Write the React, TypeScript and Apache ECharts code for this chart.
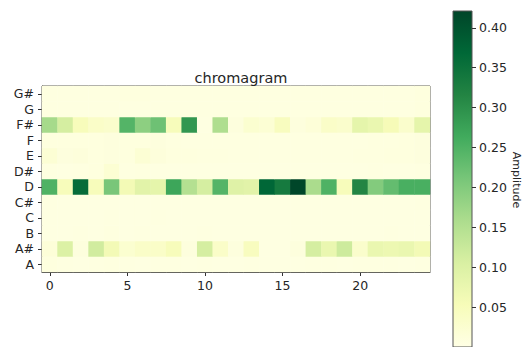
import React, { useEffect, useRef } from "react";
import * as echarts from "echarts";

const frames: string[] = Array.from({ length: 25 }, (_, i) => String(i));
const pitches = ["A", "A#", "B", "C", "C#", "D", "D#", "E", "F", "F#", "G", "G#"];

const rowA = [0.008, 0.006, 0.005, 0.006, 0.007, 0.006, 0.005, 0.006, 0.006, 0.005, 0.006, 0.005, 0.005, 0.006, 0.005, 0.005, 0.005, 0.006, 0.006, 0.005, 0.006, 0.006, 0.006, 0.005, 0.006];
const rowAs = [0.015, 0.1, 0.01, 0.115, 0.06, 0.025, 0.035, 0.035, 0.05, 0.01, 0.11, 0.035, 0.01, 0.045, 0.005, 0.005, 0.01, 0.11, 0.075, 0.12, 0.03, 0.075, 0.07, 0.075, 0.06];
const rowB = [0.005, 0.005, 0.006, 0.005, 0.007, 0.005, 0.006, 0.005, 0.005, 0.005, 0.006, 0.005, 0.005, 0.005, 0.005, 0.005, 0.005, 0.005, 0.005, 0.005, 0.005, 0.005, 0.006, 0.005, 0.005];
const rowC = [0.005, 0.005, 0.005, 0.005, 0.006, 0.005, 0.005, 0.006, 0.005, 0.005, 0.005, 0.005, 0.005, 0.005, 0.005, 0.005, 0.005, 0.005, 0.005, 0.005, 0.005, 0.005, 0.005, 0.005, 0.005];
const rowCs = [0.006, 0.005, 0.005, 0.005, 0.005, 0.005, 0.005, 0.005, 0.005, 0.005, 0.005, 0.005, 0.005, 0.005, 0.005, 0.005, 0.005, 0.005, 0.005, 0.005, 0.005, 0.005, 0.005, 0.005, 0.006];
const rowD = [0.25, 0.05, 0.36, 0.05, 0.21, 0.06, 0.09, 0.085, 0.27, 0.15, 0.11, 0.245, 0.095, 0.09, 0.37, 0.335, 0.42, 0.16, 0.25, 0.05, 0.315, 0.2, 0.23, 0.255, 0.255];
const rowDs = [0.006, 0.005, 0.006, 0.008, 0.022, 0.006, 0.007, 0.005, 0.005, 0.005, 0.005, 0.005, 0.005, 0.005, 0.005, 0.005, 0.005, 0.005, 0.005, 0.005, 0.005, 0.006, 0.005, 0.005, 0.006];
const rowE = [0.02, 0.01, 0.012, 0.008, 0.01, 0.008, 0.02, 0.012, 0.008, 0.008, 0.007, 0.007, 0.006, 0.006, 0.006, 0.006, 0.006, 0.006, 0.006, 0.006, 0.007, 0.007, 0.008, 0.008, 0.01];
const rowF = [0.008, 0.008, 0.008, 0.008, 0.01, 0.008, 0.008, 0.01, 0.007, 0.006, 0.006, 0.006, 0.006, 0.006, 0.006, 0.006, 0.006, 0.006, 0.006, 0.006, 0.006, 0.007, 0.007, 0.008, 0.01];
const rowFs = [0.165, 0.11, 0.05, 0.035, 0.03, 0.245, 0.19, 0.22, 0.05, 0.29, 0.005, 0.155, 0.01, 0.025, 0.02, 0.045, 0.01, 0.015, 0.035, 0.03, 0.085, 0.075, 0.055, 0.03, 0.085];
const rowG = [0.006, 0.006, 0.006, 0.006, 0.006, 0.006, 0.006, 0.006, 0.006, 0.006, 0.006, 0.006, 0.006, 0.006, 0.006, 0.006, 0.006, 0.006, 0.006, 0.006, 0.006, 0.006, 0.006, 0.006, 0.008];
const rowGs = [0.006, 0.006, 0.006, 0.006, 0.006, 0.008, 0.008, 0.006, 0.006, 0.006, 0.006, 0.006, 0.006, 0.006, 0.006, 0.006, 0.006, 0.006, 0.006, 0.006, 0.006, 0.006, 0.006, 0.006, 0.008];

const rows = [rowA, rowAs, rowB, rowC, rowCs, rowD, rowDs, rowE, rowF, rowFs, rowG, rowGs];

const vmax = 0.421;
const ylgn = ["#ffffe5", "#f7fcb9", "#d9f0a3", "#addd8e", "#78c679", "#41ab5d", "#238443", "#006837", "#004529"];
const cbTicks = [0.05, 0.1, 0.15, 0.2, 0.25, 0.3, 0.35, 0.4];

export default function App() {
  const ref = useRef<HTMLDivElement>(null);
  useEffect(() => {
    if (!ref.current) return;
    const chart = echarts.init(ref.current, null, { renderer: "svg" });
    const data: [number, number, number][] = [];
    rows.forEach((r, y) => r.forEach((v, x) => data.push([x, y, v])));
    const font = "DejaVu Sans";
    const txt = "#262626";
    chart.setOption({
      animation: false,
      backgroundColor: "#ffffff",
      title: {
        text: "chromagram",
        left: 236,
        top: 65,
        textAlign: "center",
        textStyle: { fontFamily: font, fontSize: 14.5, fontWeight: "normal", color: txt },
      },
      grid: [
        { left: 42, top: 86, width: 388, height: 186, show: true, borderColor: "#333", borderWidth: 1, backgroundColor: "transparent" },
        {
          left: 453, top: 11, width: 19, height: 337, show: true, borderColor: "#555", borderWidth: 1,
          backgroundColor: new echarts.graphic.LinearGradient(0, 1, 0, 0, ylgn.map((c, i) => ({ offset: i / (ylgn.length - 1), color: c }))),
        },
      ],
      xAxis: [
        {
          type: "category",
          gridIndex: 0,
          data: frames,
          axisLine: { show: true, lineStyle: { color: "#333" } },
          axisTick: { show: true, alignWithLabel: true, length: 4, interval: (i: number) => i % 5 === 0, lineStyle: { color: "#333" } },
          axisLabel: { interval: (i: number) => i % 5 === 0, fontFamily: font, fontSize: 12.5, color: txt, margin: 7 },
          splitLine: { show: false },
        },
        { type: "category", gridIndex: 1, data: ["c"], show: false },
      ],
      yAxis: [
        {
          type: "category",
          gridIndex: 0,
          data: pitches,
          axisLine: { show: true, lineStyle: { color: "#333" } },
          axisTick: { show: true, alignWithLabel: true, length: 4, interval: 0, lineStyle: { color: "#333" } },
          axisLabel: { interval: 0, fontFamily: font, fontSize: 12.5, color: txt, margin: 8 },
          splitLine: { show: false },
        },
        {
          type: "value",
          gridIndex: 1,
          position: "right",
          min: 0,
          max: vmax,
          interval: 0.05,
          axisLine: { show: false },
          axisTick: { show: true, length: 4, lineStyle: { color: "#333" } },
          axisLabel: {
            fontFamily: font, fontSize: 12.5, color: txt, margin: 7,
            showMaxLabel: false,
            formatter: (v: number) => (cbTicks.some((t) => Math.abs(t - v) < 1e-6) ? v.toFixed(2) : ""),
          },
          splitLine: { show: false },
        },
      ],
      visualMap: {
        show: false,
        type: "continuous",
        min: 0,
        max: vmax,
        seriesIndex: 0,
        inRange: { color: ylgn },
      },
      graphic: [
        {
          type: "text",
          x: 516,
          y: 180,
          rotation: -Math.PI / 2,
          style: { text: "Amplitude", font: `11px "${font}"`, fill: txt, textAlign: "center", textVerticalAlign: "middle" },
        },
      ],
      series: [
        {
          type: "heatmap",
          xAxisIndex: 0,
          yAxisIndex: 0,
          data,
          itemStyle: { borderWidth: 0 },
          emphasis: { disabled: true },
        },
        { type: "line", xAxisIndex: 1, yAxisIndex: 1, data: [], silent: true },
      ],
    });
    return () => chart.dispose();
  }, []);
  return <div ref={ref} style={{ width: 522, height: 347, position: "absolute", left: 0, top: 0 }} />;
}
